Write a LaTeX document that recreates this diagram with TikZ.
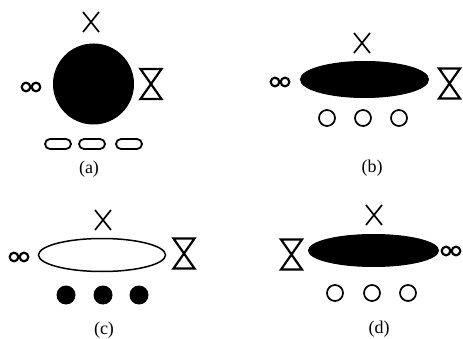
\documentclass[tikz,border=0pt]{standalone}
\usepackage{fontspec}
\setmainfont{Liberation Serif}
\usetikzlibrary{shapes.geometric, positioning}
\tikzset{
  blob/.style={ellipse, draw, line width=1pt, fill=black, inner sep=0pt},
  hollow/.style={ellipse, draw, line width=1.5pt, fill=white, inner sep=0pt},
  ring/.style={circle, draw, line width=1.7pt, minimum size=16pt, inner sep=0pt},
  dot/.style={circle, fill=black, minimum size=19pt, inner sep=0pt},
  pill/.style={rectangle, rounded corners=5pt, draw, line width=1.8pt, minimum width=26pt, minimum height=10pt, inner sep=0pt},
  caption/.style={font=\fontsize{18}{18}\selectfont, inner sep=0pt},
  pics/hourglass/.style={code={
    \draw[line width=2.2pt, line join=miter] (-10.5,-15) -- (10.5,-15) -- (-10.5,15) -- (10.5,15) -- cycle;}},
  pics/infsym/.style={code={
    \draw[line width=2.2pt] (-5,0) circle (4.3pt) (5,0) circle (4.3pt);}},
  pics/crossmark/.style={code={
    \draw[line width=1.7pt] (-8,-10) -- (8,10) (-8,10) -- (8,-10);}}
}

\begin{document}
\begin{tikzpicture}[x=1pt, y=-1pt]
  \useasboundingbox (0,0) rectangle (463,339);
  % (a)
  \node[blob, circle, minimum size=80pt] (bodyA) at (93.5,84) {};
  \pic (crossA) at (91,22) {crossmark};
  \pic (infA) at (31,87) {infsym};
  \pic (hgA) at (151,84) {hourglass};
  \node[pill] (pillA1) at (58,144) {};
  \node[pill] (pillA2) at (92,144) {};
  \node[pill] (pillA3) at (129,144) {};
  \node[caption] (capA) at (89,169) {(a)};
  % (b)
  \node[blob, minimum width=128pt, minimum height=36pt] (bodyB) at (364.5,79.5) {};
  \pic (crossB) at (362,43) {crossmark};
  \pic (infB) at (280,82) {infsym};
  \pic (hgB) at (449.5,83.5) {hourglass};
  \node[ring] (ringB1) at (327,118) {};
  \node[ring] (ringB2) at (363,118) {};
  \node[ring] (ringB3) at (399,118) {};
  \node[caption] (capB) at (372,168) {(b)};
  % (c)
  \node[hollow, minimum width=127pt, minimum height=33pt] (bodyC) at (102,255) {};
  \pic (crossC) at (103,220) {crossmark};
  \pic (infC) at (19,257) {infsym};
  \pic (hgC) at (184,253.5) {hourglass};
  \node[dot] (dotC1) at (66,295) {};
  \node[dot] (dotC2) at (103,295) {};
  \node[dot] (dotC3) at (139,295) {};
  \node[caption] (capC) at (104,330) {(c)};
  % (d)
  \node[blob, minimum width=130pt, minimum height=32pt] (bodyD) at (373.5,250.5) {};
  \pic (crossD) at (374,215) {crossmark};
  \pic (hgD) at (291.5,254.5) {hourglass};
  \pic (infD) at (451,251) {infsym};
  \node[ring] (ringD1) at (335,293) {};
  \node[ring] (ringD2) at (372,293) {};
  \node[ring] (ringD3) at (408,293) {};
  \node[caption] (capD) at (379,329.5) {(d)};
\end{tikzpicture}
\end{document}
